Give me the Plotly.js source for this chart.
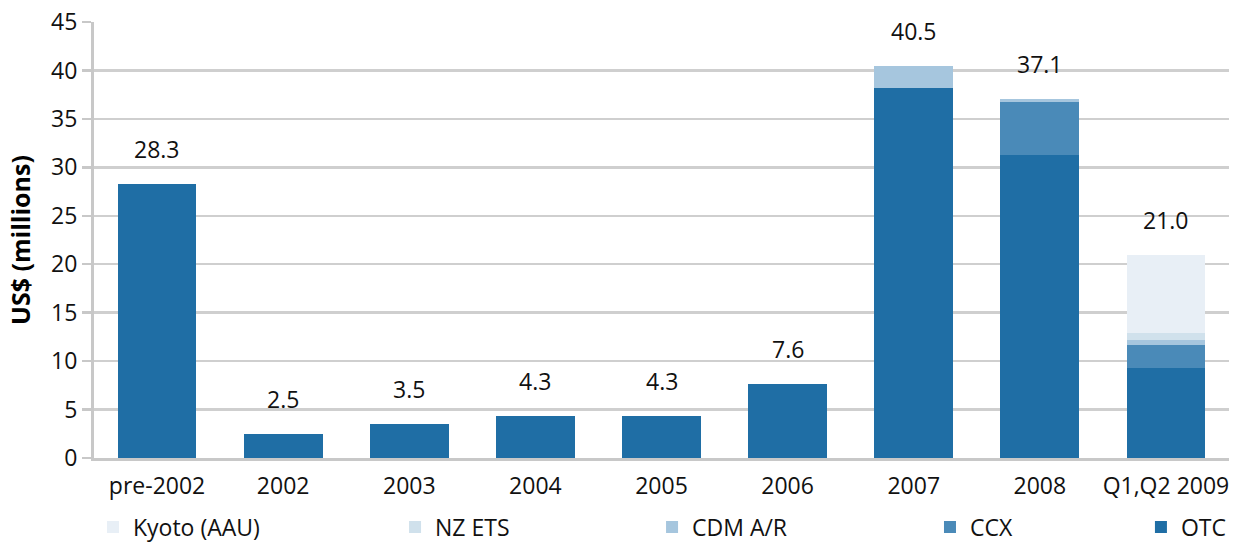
<!DOCTYPE html>
<html>
<head>
<meta charset="utf-8">
<script src="https://cdn.plot.ly/plotly-3.0.1.min.js"></script>
<style>html,body{margin:0;padding:0;background:#fff;}#chart{width:1238px;height:544px;}</style>
</head>
<body>
<div id="chart"></div>
<script>
const categories = ["pre-2002", "2002", "2003", "2004", "2005", "2006", "2007", "2008", "Q1,Q2 2009"];
const otc    = [28.3, 2.5, 3.5, 4.3, 4.3, 7.6, 38.2, 31.3, 9.3];
const ccx    = [0, 0, 0, 0, 0, 0, 0, 5.4, 2.35];
const cdmAR  = [0, 0, 0, 0, 0, 0, 2.3, 0.4, 0.5];
const nzEts  = [0, 0, 0, 0, 0, 0, 0, 0, 0.75];
const kyoto  = [0, 0, 0, 0, 0, 0, 0, 0, 8.1];
const totals = [28.3, 2.5, 3.5, 4.3, 4.3, 7.6, 40.5, 37.1, 21.0];
const totalLabels = ["28.3", "2.5", "3.5", "4.3", "4.3", "7.6", "40.5", "37.1", "21.0"];

const FONT = "Open Sans, Noto Sans, sans-serif";
const series = [
  {name: "OTC", y: otc, color: "#1f6ea5", legend: "legend5"},
  {name: "CCX", y: ccx, color: "#4a8ab8", legend: "legend4"},
  {name: "CDM A/R", y: cdmAR, color: "#a6c6de", legend: "legend3"},
  {name: "NZ ETS", y: nzEts, color: "#d0e1ec", legend: "legend2"},
  {name: "Kyoto (AAU)", y: kyoto, color: "#e8eff6", legend: "legend"}
];
const traces = series.map(s => ({
  type: "bar", x: categories, y: s.y, name: s.name, legend: s.legend,
  marker: {color: s.color, line: {width: 0}}, hoverinfo: "x+y+name"
}));

const annotations = categories.map((c, i) => ({
  x: i, y: totals[i], text: totalLabels[i], showarrow: false,
  xref: "x", yref: "y", yanchor: "bottom", yshift: 17,
  font: {family: FONT, size: 23, color: "#111"}
}));

function leg(x) {
  return {orientation: "h", xref: "container", yref: "container", x: x, y: 0.031,
    xanchor: "left", yanchor: "middle",
    font: {family: FONT, size: 23, color: "#111"}, bgcolor: "rgba(0,0,0,0)", itemwidth: 30};
}

const layout = {
  width: 1238, height: 544,
  margin: {l: 94, r: 9, t: 22, b: 86, autoexpand: false},
  paper_bgcolor: "#fff", plot_bgcolor: "#fff",
  barmode: "stack", bargap: 0.375,
  font: {family: FONT, size: 23, color: "#111"},
  xaxis: {
    type: "category", range: [-0.5, categories.length - 0.5], showgrid: false, showline: true,
    linecolor: "#c8c8c8", linewidth: 3,
    ticks: "", tickfont: {family: FONT, size: 23, color: "#111"}, ticklabelstandoff: 5
  },
  yaxis: {
    range: [0, 45], dtick: 5, showgrid: true, gridcolor: "#cfcfcf", gridwidth: 2.5,
    showline: true, linecolor: "#c8c8c8", linewidth: 3, ticks: "outside", ticklen: 9,
    tickcolor: "#c8c8c8", tickwidth: 2.5, zeroline: false,
    tickfont: {family: FONT, size: 23, color: "#111"},
    title: {text: "US$ (millions)", font: {family: FONT, size: 25, color: "#000", weight: "bold"}, standoff: 14}
  },
  legend: leg(0.0751),
  legend2: leg(0.3191),
  legend3: leg(0.5267),
  legend4: leg(0.7512),
  legend5: leg(0.9216),
  annotations: annotations,
  showlegend: true
};

Plotly.newPlot("chart", traces, layout, {displayModeBar: false, staticPlot: true});
</script>
</body>
</html>
